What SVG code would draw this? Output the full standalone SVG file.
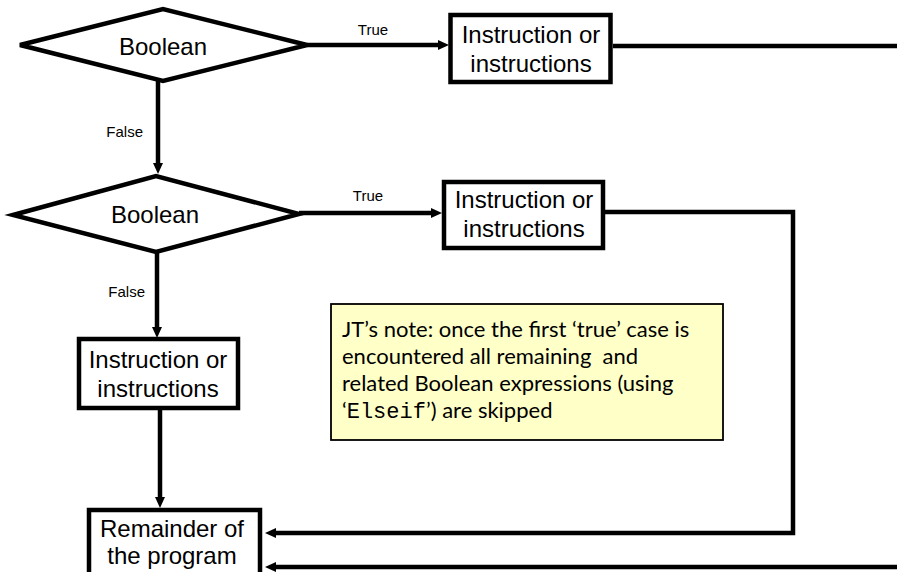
<svg xmlns="http://www.w3.org/2000/svg" width="897" height="572" viewBox="0 0 897 572">
<defs>
<style>
.shape{fill:#fff;stroke:#000;stroke-width:4.5;stroke-linejoin:miter}
.lbl{font-family:"Liberation Sans",Arial,sans-serif;font-size:24px;fill:#000;text-anchor:middle}
.small{font-family:"Liberation Sans",Arial,sans-serif;font-size:15px;fill:#000}
.conn{fill:none;stroke:#000;stroke-width:4.5;stroke-linejoin:miter}
.note{font-family:Lato,"Noto Sans",sans-serif;font-size:22px;fill:#000;white-space:pre}
.mono{font-family:"Liberation Mono","DejaVu Sans Mono",monospace}
</style>
<marker id="ah" markerUnits="userSpaceOnUse" markerWidth="11" markerHeight="10" refX="2" refY="5" orient="auto">
<path d="M0,0 L11,5 L0,10 z" fill="#000"/>
</marker>
</defs>
<rect width="897" height="572" fill="#fff"/>

<g id="connectors">
<line class="conn" x1="307" y1="45" x2="440" y2="45" marker-end="url(#ah)"/>
<line class="conn" x1="613" y1="46" x2="897" y2="46"/>
<line class="conn" x1="158" y1="80" x2="158" y2="165" marker-end="url(#ah)"/>
<line class="conn" x1="299" y1="213" x2="433" y2="213" marker-end="url(#ah)"/>
<polyline class="conn" points="605,212 793,212 793,533 274,533" marker-end="url(#ah)"/>
<line class="conn" x1="157" y1="251" x2="157" y2="329" marker-end="url(#ah)"/>
<line class="conn" x1="160" y1="410" x2="160" y2="499" marker-end="url(#ah)"/>
<line class="conn" x1="897" y1="567" x2="274" y2="567" marker-end="url(#ah)"/>
<text class="small" x="373" y="35" text-anchor="middle">True</text>
<text class="small" x="143" y="137" text-anchor="end">False</text>
<text class="small" x="368" y="201" text-anchor="middle">True</text>
<text class="small" x="145" y="297" text-anchor="end">False</text>
</g>

<g id="decision1">
<polygon class="shape" points="20,45 163,9 307,45 163,81"/>
<text class="lbl" x="163" y="55">Boolean</text>
</g>

<g id="action1">
<rect class="shape" x="450.5" y="15" width="160" height="67"/>
<text class="lbl" x="531" y="43">Instruction or</text>
<text class="lbl" x="531" y="72">instructions</text>
</g>

<g id="decision2">
<polygon class="shape" points="13,215 156,176 299,214 156,252"/>
<text class="lbl" x="155" y="223">Boolean</text>
</g>

<g id="action2">
<rect class="shape" x="444" y="182" width="159" height="66"/>
<text class="lbl" x="524" y="208">Instruction or</text>
<text class="lbl" x="524" y="237">instructions</text>
</g>

<g id="action3">
<rect class="shape" x="79" y="339" width="159" height="69"/>
<text class="lbl" x="158" y="368">Instruction or</text>
<text class="lbl" x="158" y="397">instructions</text>
</g>

<g id="remainder">
<rect class="shape" x="89" y="510" width="171" height="70"/>
<text class="lbl" x="172" y="537">Remainder of</text>
<text class="lbl" x="172" y="564">the program</text>
</g>

<g id="note">
<rect x="331" y="304" width="392" height="136" fill="#FFFFC8" stroke="#000" stroke-width="1.8"/>
<text class="note" x="342" y="337">JT’s note: once the first ‘true’ case is</text>
<text class="note" x="342" y="364" xml:space="preserve">encountered all remaining  and</text>
<text class="note" x="342" y="391">related Boolean expressions (using</text>
<text class="note" x="342" y="418">‘<tspan class="mono">Elseif</tspan>’) are skipped</text>
</g>
</svg>
